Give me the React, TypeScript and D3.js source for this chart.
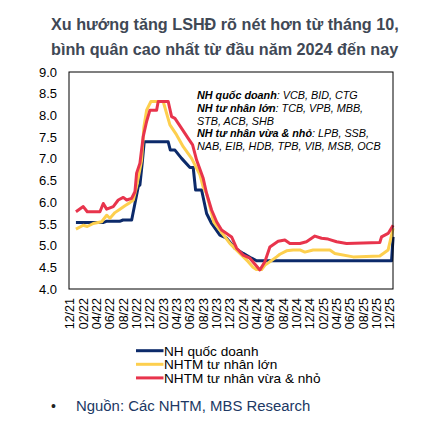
import React from "react";
import * as d3 from "d3";

// x value = month index counted from 12/2021 (0 = 12/21, 48 = 12/25)
const tickLabels = [
  "12/21", "02/22", "04/22", "06/22", "08/22", "10/22", "12/22",
  "02/23", "04/23", "06/23", "08/23", "10/23", "12/23",
  "02/24", "04/24", "06/24", "08/24", "10/24", "12/24",
  "02/25", "04/25", "06/25", "08/25", "10/25", "12/25",
];
const yTicks = [4.0, 4.5, 5.0, 5.5, 6.0, 6.5, 7.0, 7.5, 8.0, 8.5, 9.0];

const stateBanks: [number, number][] = [
  [0.94, 5.53], [5.0, 5.53], [5.5, 5.56], [7.5, 5.56], [8.0, 5.59], [9.3, 5.59],
  [9.79, 5.97], [10.29, 6.36], [10.54, 6.4], [10.88, 6.9], [11.18, 7.39],
  [14.78, 7.39], [15.1, 7.2], [15.79, 7.2], [16.79, 7.01], [18.04, 6.8],
  [18.53, 6.8], [18.89, 6.28], [19.79, 6.28], [20.54, 5.74], [21.29, 5.51],
  [22.53, 5.24], [23.54, 5.17], [24.78, 4.94], [26.03, 4.82], [27.29, 4.71],
  [28.04, 4.65], [48.28, 4.65], [48.52, 5.2],
];

const largePrivate: [number, number][] = [
  [0.94, 5.38], [2.04, 5.47], [2.64, 5.44], [3.54, 5.51], [4.8, 5.55],
  [5.55, 5.7], [6.04, 5.63], [6.79, 5.76], [7.54, 5.84], [8.29, 5.92],
  [9.04, 5.99], [9.54, 6.05], [10.04, 6.36], [10.79, 6.97], [11.14, 7.74],
  [11.54, 8.12], [12.19, 8.32], [14.03, 8.32], [15.04, 7.78], [16.04, 7.55],
  [17.03, 7.28], [18.29, 7.01], [19.54, 6.63], [20.03, 6.35], [20.54, 6.2],
  [21.29, 5.74], [21.6, 5.55], [22.53, 5.36], [24.03, 5.05], [25.53, 4.82],
  [26.78, 4.63], [27.5, 4.5], [28.0, 4.45], [28.8, 4.45], [29.3, 4.55],
  [30.03, 4.63], [31.03, 4.74], [31.53, 4.8], [32.53, 4.88], [33.52, 4.9],
  [34.53, 4.9], [35.27, 4.85], [36.52, 4.9], [39.03, 4.9], [39.78, 4.82],
  [42.52, 4.74], [46.52, 4.76], [47.77, 4.9], [48.52, 5.4],
];

const smallPrivate: [number, number][] = [
  [0.94, 5.78], [2.04, 5.9], [2.64, 5.78], [4.54, 5.78], [5.04, 5.97],
  [5.55, 5.84], [6.54, 5.9], [7.29, 6.05], [8.04, 6.11], [8.55, 6.05],
  [9.3, 6.09], [9.79, 6.24], [10.04, 6.67], [10.54, 6.9], [11.03, 7.51],
  [11.54, 7.86], [12.04, 8.12], [13.04, 8.12], [13.28, 8.32], [14.78, 8.32],
  [15.29, 7.97], [15.79, 7.93], [16.79, 7.7], [17.78, 7.47], [18.44, 7.32],
  [19.04, 6.97], [20.03, 6.55], [20.54, 6.2], [21.29, 5.82], [22.04, 5.55],
  [22.79, 5.36], [23.54, 5.28], [24.29, 5.2], [25.04, 4.94], [26.03, 4.78],
  [27.03, 4.71], [28.53, 4.44], [29.28, 4.63], [30.03, 4.97], [31.27, 5.1],
  [32.28, 5.13], [33.03, 5.05], [34.53, 5.05], [35.52, 5.09], [36.78, 5.22],
  [37.78, 5.17], [38.77, 5.15], [40.04, 5.09], [41.53, 5.05], [46.52, 5.07],
  [46.78, 5.2], [47.77, 5.28], [48.52, 5.47],
];

const seriesNames = ["NH quốc doanh", "NHTM tư nhân lớn", "NHTM tư nhân vừa & nhỏ"];
const seriesColors = ["#0c2a6a", "#fdcf4e", "#e8344c"];

const titleLines = [
  "Xu hướng tăng LSHĐ rõ nét hơn từ tháng 10,",
  "bình quân cao nhất từ đầu năm 2024 đến nay",
];

const noteLines: [string, string][] = [
  ["NH quốc doanh", ": VCB, BID, CTG"],
  ["NH tư nhân lớn", ": TCB, VPB, MBB,"],
  ["", "STB, ACB, SHB"],
  ["NH tư nhân vừa & nhỏ", ": LPB, SSB,"],
  ["", "NAB, EIB, HDB, TPB, VIB, MSB, OCB"],
];

const sourceText = "Nguồn: Các NHTM, MBS Research";

const FONT = "'Liberation Sans', Arial, sans-serif";

export default function App() {
  const W = 426, H = 435;
  const left = 69, right = 393, top = 72, bottom = 289;
  const x = d3.scaleLinear().domain([-0.1, 48.5]).range([left, right]);
  const y = d3.scaleLinear().domain([4, 9]).range([bottom, top]);
  const line = d3
    .line<[number, number]>()
    .x((d) => x(d[0]))
    .y((d) => y(d[1]));
  const allSeries = [stateBanks, largePrivate, smallPrivate];
  const drawOrder = [0, 1, 2];

  return (
    <svg
      width={W}
      height={H}
      style={{ position: "absolute", left: 0, top: 0, background: "#fff" }}
      fontFamily={FONT}
    >
      <rect x={0} y={0} width={W} height={H} fill="#fff" />
      {titleLines.map((t, i) => (
        <text
          key={t}
          x={51}
          y={29.5 + i * 25.5}
          fontSize={16.2}
          fontWeight="bold"
          fill="#404855"
        >
          {t}
        </text>
      ))}

      <clipPath id="plotclip">
        <rect x={left} y={top - 2} width={right - left + 2} height={bottom - top + 2} />
      </clipPath>
      <g clipPath="url(#plotclip)">
        {drawOrder.map((i) => (
          <path
            key={i}
            d={line(allSeries[i]) || ""}
            fill="none"
            stroke={seriesColors[i]}
            strokeWidth={3}
            strokeLinejoin="round"
          />
        ))}
      </g>
      <rect
        x={left}
        y={top}
        width={right - left}
        height={bottom - top}
        fill="none"
        stroke="#000"
        strokeWidth={1}
      />

      {yTicks.map((v) => (
        <text
          key={v}
          x={57}
          y={y(v)}
          dy="0.36em"
          textAnchor="end"
          fontSize={13}
          fill="#000"
        >
          {v.toFixed(1)}
        </text>
      ))}

      {tickLabels.map((t, i) => (
        <text
          key={t}
          transform={`translate(${x(i * 2) + 4.5},${298}) rotate(-90)`}
          textAnchor="end"
          fontSize={12.5}
          fill="#000"
        >
          {t}
        </text>
      ))}

      {noteLines.map(([b, rest], i) => (
        <text
          key={i}
          x={197}
          y={95 + i * 12.9}
          dy="0.35em"
          fontSize={10.8}
          fontStyle="italic"
          fill="#000"
        >
          {b && <tspan fontWeight="bold">{b}</tspan>}
          <tspan>{rest}</tspan>
        </text>
      ))}

      {seriesNames.map((n, i) => (
        <g key={n} transform={`translate(0,${350.7 + i * 13.6})`}>
          <line x1={136} x2={163.5} y1={0} y2={0} stroke={seriesColors[i]} strokeWidth={3} />
          <text x={164} y={0} dy="0.36em" fontSize={13.6} fill="#000">
            {n}
          </text>
        </g>
      ))}

      <text x={51} y={411} fontSize={14} fill="#222">
        •
      </text>
      <text x={76} y={411} fontSize={14.9} fill="#203864">
        {sourceText}
      </text>
    </svg>
  );
}
